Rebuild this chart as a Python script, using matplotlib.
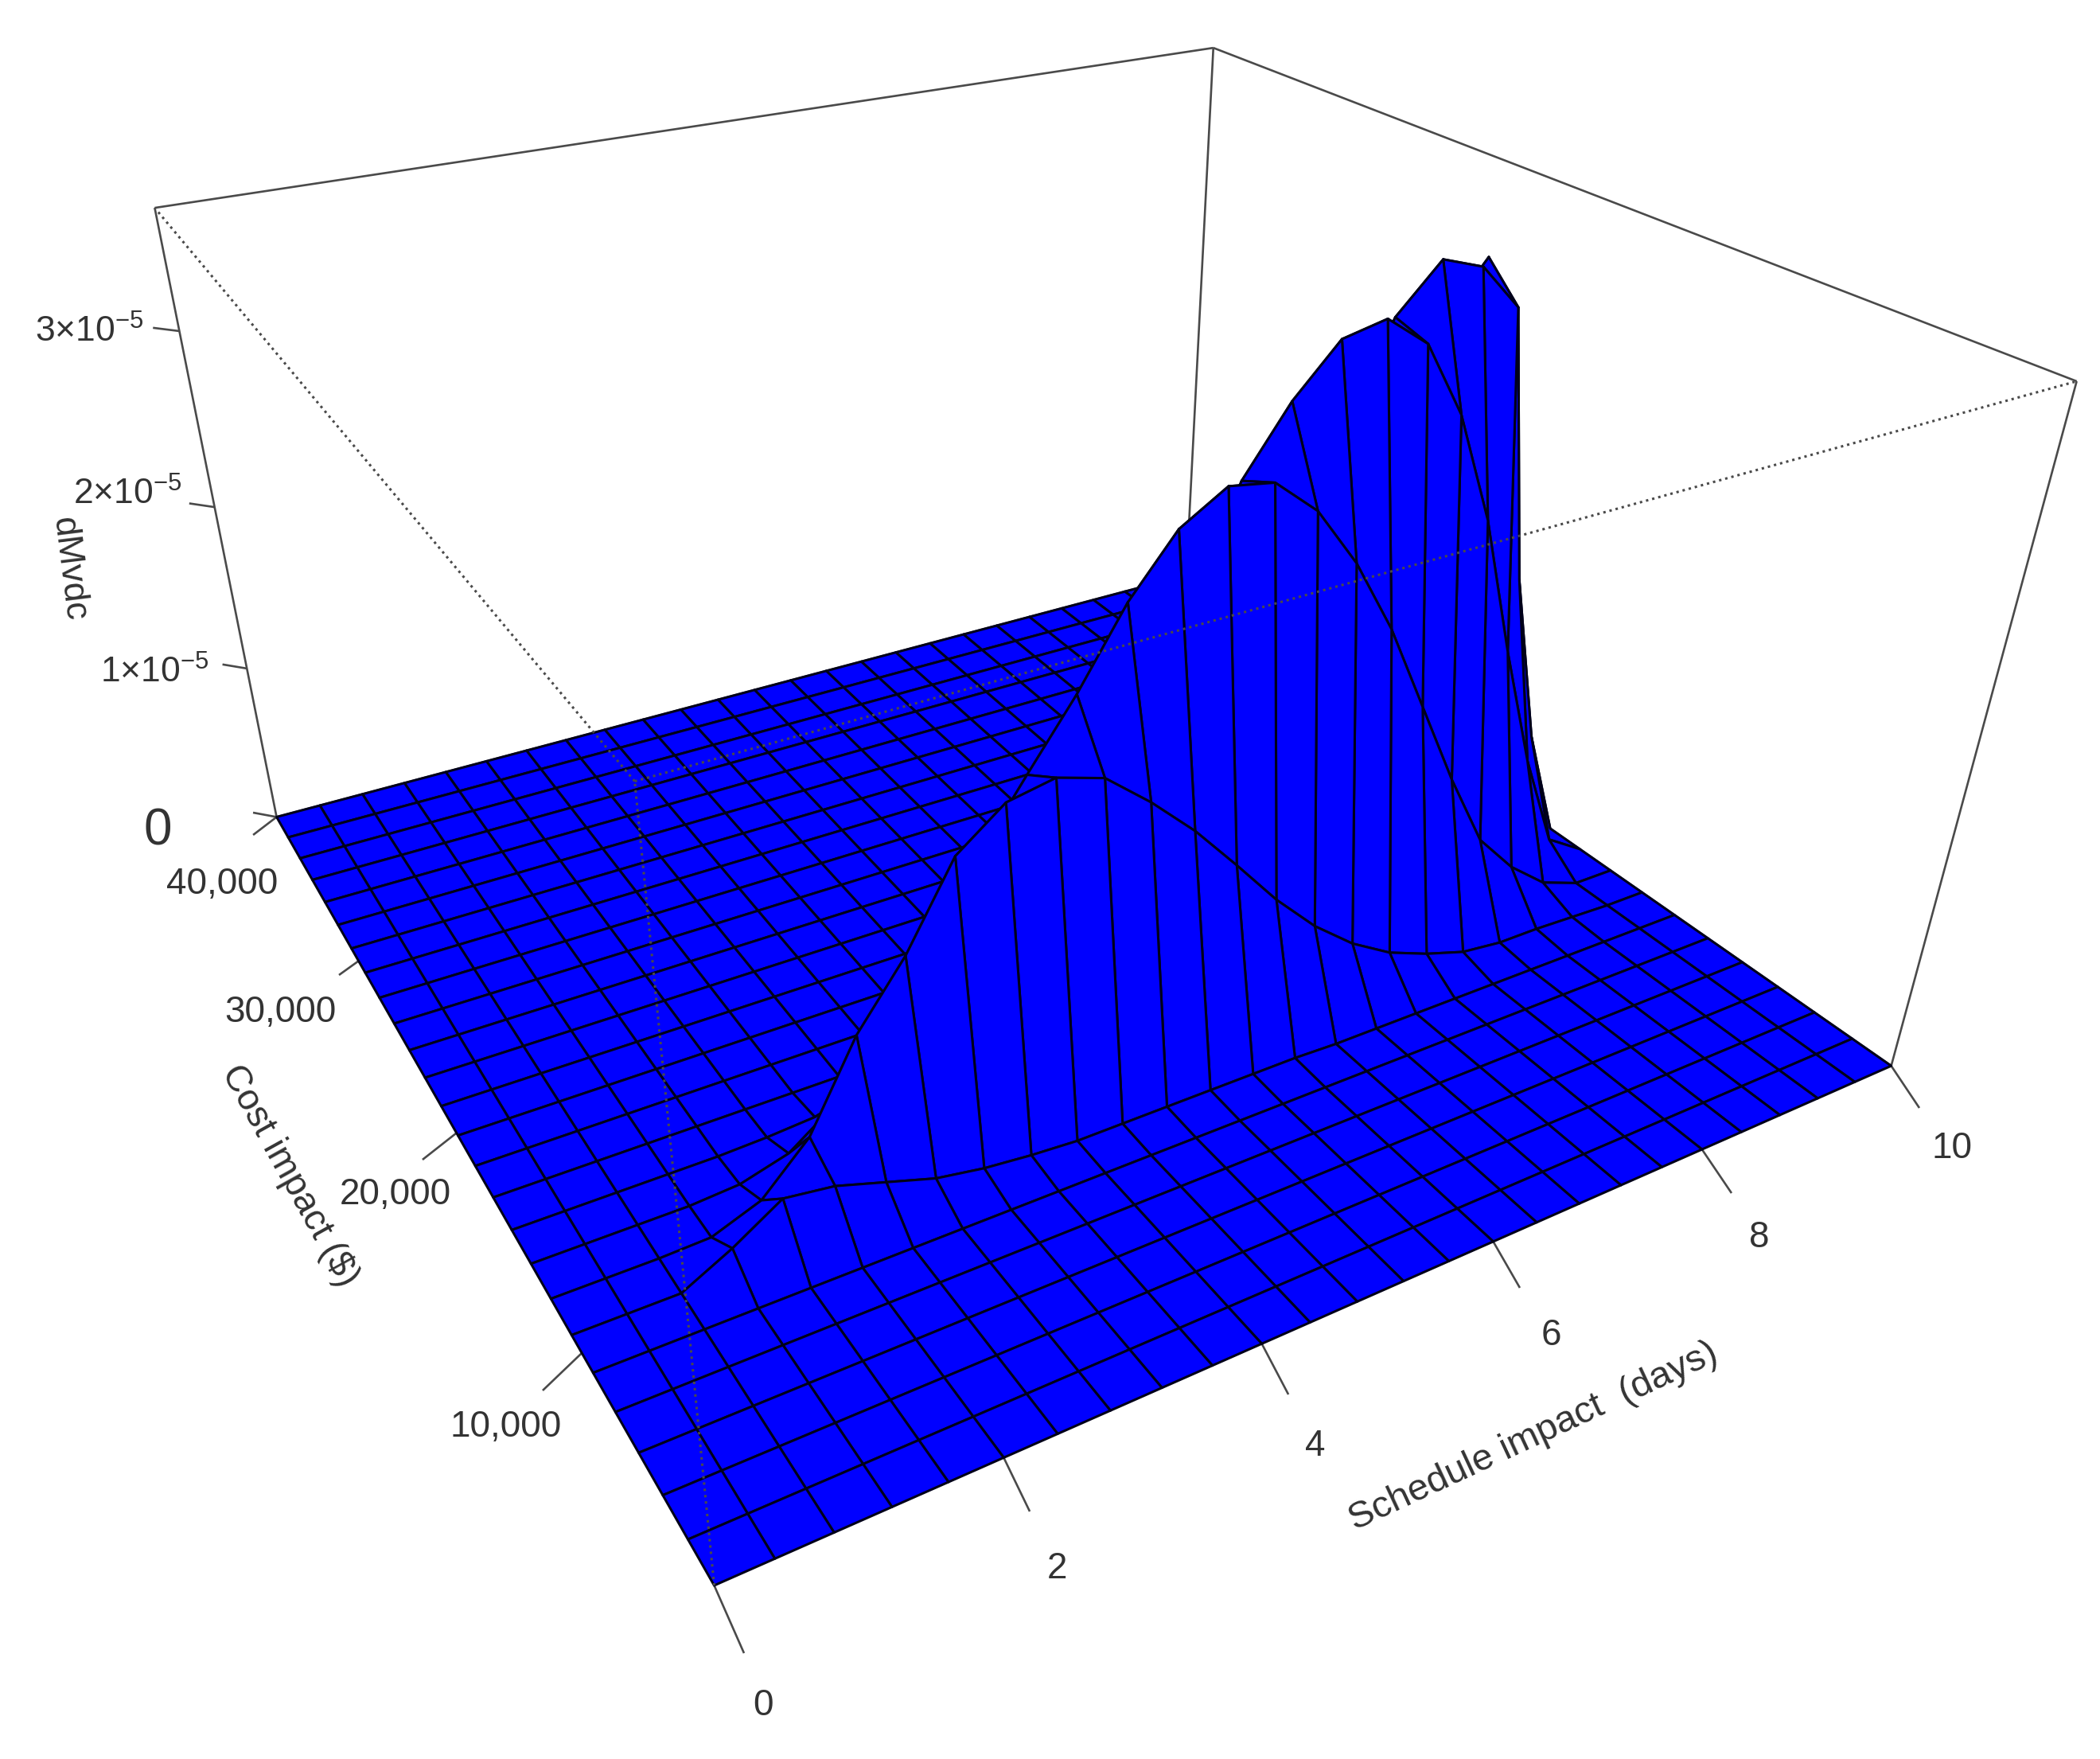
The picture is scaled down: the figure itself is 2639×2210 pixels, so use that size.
import numpy as np, matplotlib
matplotlib.use('Agg')
import matplotlib.pyplot as plt
from mpl_toolkits.mplot3d.art3d import Line3DCollection

plt.rcParams['font.family'] = 'Liberation Sans'
plt.rcParams['mathtext.fontset'] = 'custom'
plt.rcParams['mathtext.rm'] = 'Liberation Sans'
plt.rcParams['mathtext.default'] = 'rm'

# --- data -----------------------------------------------------------------
schedule = np.linspace(0, 10, 26)
cost = np.linspace(0, 40000, 26)
# density in units of 1e-5, one list per cost row; rows not listed are flat
density_row_6 = [0,0,0,.15,.33,.29,.20,.11,.06,.03,.01,.01,.01,.01,.01,.01,0,0,0,0,0,0,0,0,0,0]
density_row_7 = [0,0,0,.01,.12,.39,.88,1.23,1.68,1.88,1.93,1.85,1.64,1.40,1.12,.83,.58,.38,.23,.13,.05,.02,.02,.01,0,0]
density_row_8 = [0,0,0,0,.02,.1,.3,.6,1.0,1.45,1.81,2.16,2.56,2.86,3.01,2.97,2.77,2.44,2.02,1.51,1.00,.54,.28,.09,0,0]
density_row_9 = [0,0,0,0,0,.01,.03,.08,.18,.35,.6,.95,1.35,1.8,2.3,2.88,3.22,3.47,3.52,3.35,2.94,2.32,1.5,.75,.15,0]
density_row_10 = [0,0,0,0,0,0,0,0,.02,.05,.11,.22,.4,.65,1.0,1.4,1.85,2.35,2.9,3.40,3.64,3.56,3.31,1.75,.7,0]
density_row_11 = [0,0,0,0,0,0,0,0,0,0,.01,.03,.07,.15,.27,.45,.75,1.1,1.6,2.2,2.8,3.2,3.49,1.2,.3,0]
density_row_12 = [0,0,0,0,0,0,0,0,0,0,0,0,0,.04,.08,.14,.25,.4,.6,.9,1.2,1.5,1.7,.8,.1,0]
density_row_13 = [0,0,0,0,0,0,0,0,0,0,0,0,0,0,0,0,.05,.1,.2,.3,.45,.55,.6,.25,.02,0]
density_row_14 = [0,0,0,0,0,0,0,0,0,0,0,0,0,0,0,0,0,0,.03,.05,.1,.15,.15,.05,0,0]
density_rows = {6: density_row_6, 7: density_row_7, 8: density_row_8, 9: density_row_9, 10: density_row_10,
                11: density_row_11, 12: density_row_12, 13: density_row_13, 14: density_row_14}
schedule_ticks = [0, 2, 4, 6, 8, 10]
schedule_tick_labels = ['0', '2', '4', '6', '8', '10']
cost_tick_positions = [40000, 29570, 19339, 8833]
cost_tick_labels = ['40,000', '30,000', '20,000', '10,000']
z_ticks = [0, 1e-5, 2e-5, 3e-5]
z_tick_labels = ['0', '1×10$^{−5}$', '2×10$^{−5}$', '3×10$^{−5}$']

# --- camera ---------------------------------------------------------------
W, H = 2639, 2210
ZMAX = 3.65e-5
SMAX, CMAX = 10, 40000
# perspective camera (normalised box coordinates -> figure pixels)
P = np.array([2.203957e+03, -3.656468e+02, -2.777255e+02, 8.974964e+02,
              9.184304e+02, 1.592888e+03, 7.364893e+02, 2.180362e+02,
              3.049838e-01, 5.300970e-01, -2.229692e-01, 1.0]).reshape(3, 4)
camera = np.vstack([P[0], P[1], [P[2, 0], P[2, 1], 0, -0.37], P[2]]) @ np.diag([1/SMAX, 1/CMAX, 1/ZMAX, 1])

fig = plt.figure(figsize=(W/100, H/100), dpi=100)
ax = fig.add_axes([0, -(W-H)/2/H, 1, W/H], projection='3d', computed_zorder=False)
ax.get_proj = lambda: camera
ax.viewLim.intervalx = (0, W)
ax.viewLim.intervaly = (-(W-H)/2, H+(W-H)/2)
ax.set_axis_off()

Z = np.zeros((len(cost), len(schedule)))
for j, r in density_rows.items():
    Z[j] = r
Z = Z*1e-5
SS, CC = np.meshgrid(schedule, cost)

BOX = '#4a4a4a'
def lines(segs, z=1, ls='-', lw=1.9):
    ax.add_collection3d(Line3DCollection(segs, colors=BOX, linewidths=lw, linestyles=ls, zorder=z), autolim=False)

back = [((0, CMAX, ZMAX), (SMAX, CMAX, ZMAX)), ((SMAX, CMAX, ZMAX), (SMAX, 0, ZMAX)),
        ((0, CMAX, 0), (0, CMAX, ZMAX)), ((SMAX, CMAX, 0), (SMAX, CMAX, ZMAX)),
        ((SMAX, 0, 0), (SMAX, 0, ZMAX)), ((0, CMAX, 0), (SMAX, CMAX, 0)), ((SMAX, CMAX, 0), (SMAX, 0, 0))]
for sv, d in zip(schedule_ticks, [(-.044, -2133), (-.075, -1836), (-.113, -1858), (-.143, -1821), (-.162, -1874), (-.214, -1887)]):
    back.append(((sv, 0, 0), (sv+d[0], d[1], 0)))
for cv, d in zip(cost_tick_positions, [(-.265, -800), (-.198, -461), (-.317, -682), (-.345, -765)]):
    back.append(((0, cv, 0), (d[0], cv+d[1], 0)))
for zv in z_ticks:
    back.append(((0, CMAX, zv), (-.168, CMAX+736, zv)))
lines(back, 1)

# back rows first, so that the hump hides what lies behind it
for j in range(len(cost)-2, -1, -1):
    ax.plot_surface(SS[j:j+2], CC[j:j+2], Z[j:j+2], rstride=1, cstride=1, color='#0000ff',
                    edgecolor='#00001a', linewidth=2.2, shade=False, zorder=2+(24-j)*0.01)

lines([((0, 0, 0), (0, 0, ZMAX)), ((0, 0, ZMAX), (0, CMAX, ZMAX)), ((0, 0, ZMAX), (SMAX, 0, ZMAX))], 3, (0, (1, 1.6)), 2.2)

def label(t, x, y, sz=33, r=0):
    fig.text(x/W, 1-y/H, t, ha='center', va='center', fontsize=sz, rotation=r, color='#333333', rotation_mode='anchor')

for t, (x, y) in zip(schedule_tick_labels, [(959, 2143), (1328, 1971), (1653, 1817), (1949, 1678), (2211, 1555), (2453, 1443)]):
    label(t, x, y)
for t, (x, y) in zip(cost_tick_labels, [(279, 1111), (352, 1272), (497, 1501), (636, 1793)]):
    label(t, x, y)
for t, (x, y), sz in zip(z_tick_labels, [(198, 1045), (194, 845), (160, 621), (112, 417)], [46, 32, 32, 32]):
    label(t, x, y, sz)
label('dMvdc', 87, 715, 32, -83)
label('Cost impact ($)', 364, 1477, 33, -61)
label('Schedule impact  (days)', 1927, 1805, 34, 25)

fig.savefig('out.png')
